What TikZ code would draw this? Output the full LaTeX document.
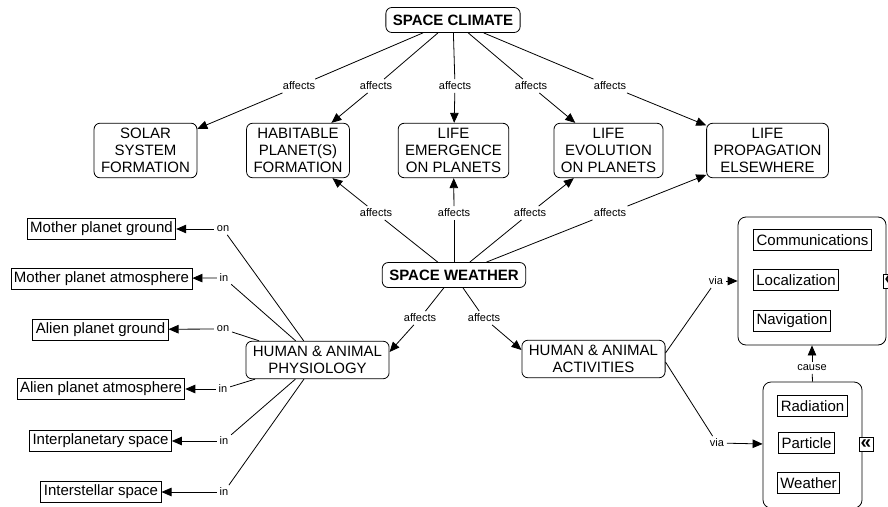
\documentclass[tikz,border=0pt]{standalone}
\usepackage{fontspec}
\setmainfont{Liberation Sans}
\usetikzlibrary{arrows.meta}
\begin{document}
\begin{tikzpicture}[x=1pt,y=-1pt,
  line width=0.8pt,
  rbox/.style={draw, rounded corners=6pt, align=center, inner xsep=7pt, inner ysep=5pt, font=\fontsize{15}{17}\selectfont},
  bbox/.style={rbox, font=\fontsize{15}{17}\selectfont\bfseries, minimum height=25pt},
  sbox/.style={draw, inner xsep=3pt, inner ysep=2pt, minimum height=21pt, font=\fontsize{15}{17}\selectfont},
  grp/.style={draw, rounded corners=8pt},
  lbl/.style={inner sep=2.5pt, font=\fontsize{11}{13}\selectfont},
  arr/.style={-{Triangle[length=10pt,width=8.5pt]}},
  chev/.style={draw, inner sep=0pt, minimum width=14pt, minimum height=14pt, font=\fontsize{19}{19}\selectfont\bfseries}
]
\useasboundingbox (0,0) rectangle (888,506);

% main nodes
\node[bbox] (clim) at (453,20) {SPACE CLIMATE};
\node[rbox] (solar) at (145.5,150.5) {SOLAR\\SYSTEM\\FORMATION};
\node[rbox] (hab) at (298,150.5) {HABITABLE\\PLANET(S)\\FORMATION};
\node[rbox] (emer) at (453.5,150.5) {LIFE\\EMERGENCE\\ON PLANETS};
\node[rbox] (evol) at (608.5,150.5) {LIFE\\EVOLUTION\\ON PLANETS};
\node[rbox] (prop) at (767.5,150.5) {LIFE\\PROPAGATION\\ELSEWHERE};
\node[bbox] (weat) at (454,275) {SPACE WEATHER};
\node[rbox] (phys) at (317.5,360) {HUMAN \& ANIMAL\\PHYSIOLOGY};
\node[rbox] (act) at (593.5,359) {HUMAN \& ANIMAL\\ACTIVITIES};

% groups
\node[grp, minimum width=148pt, minimum height=128pt] (tgrp) at (812,281) {};
\node[sbox] (comm) at (812.5,240) {Communications};
\node[sbox] (loc) at (796,280) {Localization};
\node[sbox] (nav) at (792,320.5) {Navigation};
\node[chev, fill=white] (tchev) at (890,281) {\raisebox{1pt}{«}};

\node[grp, minimum width=99pt, minimum height=126pt] (bgrp) at (812.5,445) {};
\node[sbox] (rad) at (812.5,406) {Radiation};
\node[sbox] (part) at (806.5,443) {Particle};
\node[sbox] (wth) at (808.5,483) {Weather};
\node[chev, fill=white] (bchev) at (866,444.5) {\raisebox{1pt}{«}};

% left boxes
\node[sbox] (mpg) at (101.5,229) {Mother planet ground};
\node[sbox] (mpa) at (101.5,278.5) {Mother planet atmosphere};
\node[sbox] (apg) at (100.5,329.5) {Alien planet ground};
\node[sbox] (apa) at (101,389) {Alien planet atmosphere};
\node[sbox] (ips) at (100.5,441) {Interplanetary space};
\node[sbox] (iss) at (101,492) {Interstellar space};

% labels
\node[lbl] (c1) at (299,86) {affects};
\node[lbl] (c2) at (376,86) {affects};
\node[lbl] (c3) at (455,86) {affects};
\node[lbl] (c4) at (531,86) {affects};
\node[lbl] (c5) at (610,86) {affects};
\node[lbl] (w1) at (376,213) {affects};
\node[lbl] (w2) at (454,213) {affects};
\node[lbl] (w3) at (530,213) {affects};
\node[lbl] (w4) at (610,213) {affects};
\node[lbl] (w5) at (420,318) {affects};
\node[lbl] (w6) at (484,318) {affects};
\node[lbl] (l1) at (223,229) {on};
\node[lbl] (l2) at (224,278) {in};
\node[lbl] (l3) at (223,329) {on};
\node[lbl] (l4) at (223,389) {in};
\node[lbl] (l5) at (224,441) {in};
\node[lbl] (l6) at (224,492) {in};
\node[lbl] (v1) at (716,281) {via};
\node[lbl] (v2) at (717,443) {via};
\node[lbl] (cause) at (812,368) {cause};

% space climate connectors
\draw (clim) -- (c1); \draw[arr] (c1) -- (solar);
\draw (clim) -- (c2); \draw[arr] (c2) -- (hab);
\draw (clim) -- (c3); \draw[arr] (c3) -- (emer);
\draw (clim) -- (c4); \draw[arr] (c4) -- (evol);
\draw (clim) -- (c5); \draw[arr] (c5) -- (prop);

% space weather connectors
\draw (weat) -- (w1); \draw[arr] (w1) -- (hab);
\draw (weat) -- (w2); \draw[arr] (w2) -- (emer);
\draw (weat) -- (w3); \draw[arr] (w3) -- (evol);
\draw (weat) -- (w4); \draw[arr] (w4) -- (prop);
\draw (weat) -- (w5); \draw[arr] (w5) -- ([yshift=8pt]phys.east);
\draw (weat) -- (w6); \draw[arr] (w6) -- ([yshift=9pt]act.west);

% physiology connectors
\draw (phys) -- (l1); \draw[arr] (l1) -- (mpg);
\draw (phys) -- (l2); \draw[arr] (l2) -- (mpa);
\draw (phys) -- (l3); \draw[arr] (l3) -- (apg);
\draw (phys) -- (l4); \draw[arr] (l4) -- (apa);
\draw (phys) -- (l5); \draw[arr] (l5) -- (ips);
\draw (phys) -- (l6); \draw[arr] (l6) -- (iss);

% activities connectors
\draw ([yshift=6pt]act.east) -- (v1); \draw[arr] (v1) -- (tgrp);
\draw ([yshift=-3pt]act.east) -- (v2); \draw[arr] (v2) -- (bgrp);
\draw (bgrp.north) -- (cause); \draw[arr] (cause) -- (tgrp.south);
\end{tikzpicture}
\end{document}
